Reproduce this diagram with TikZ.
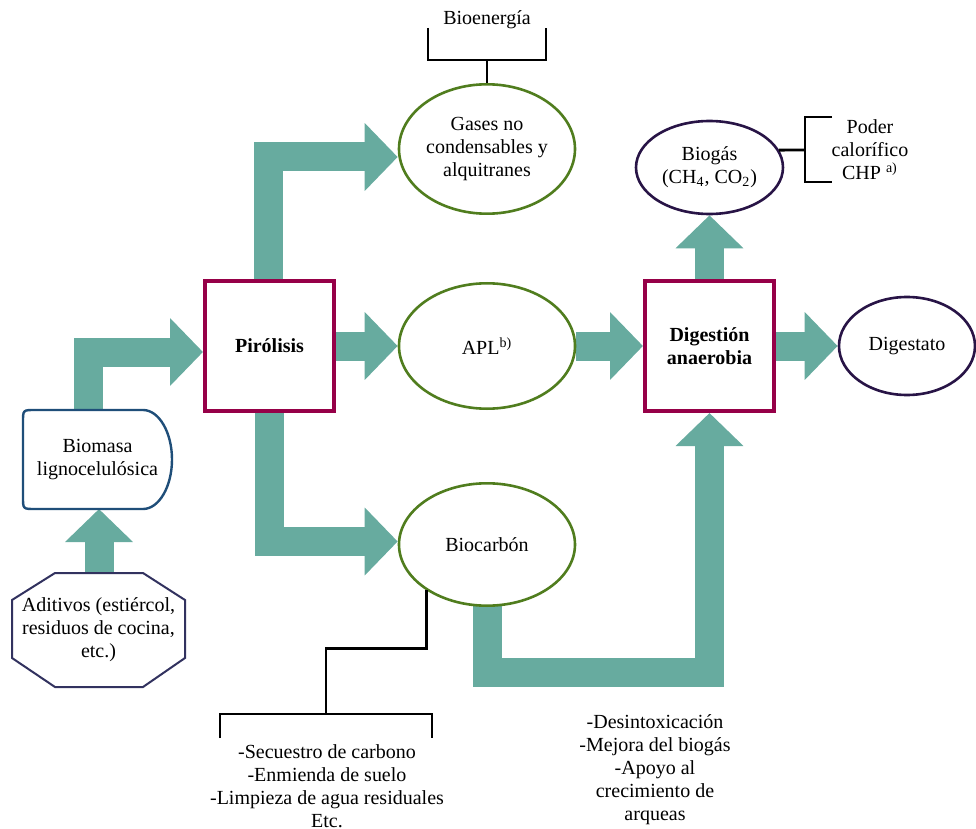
\documentclass[tikz,border=0pt]{standalone}
\usepackage{fontspec}
\setmainfont{Liberation Serif}
\newfontfamily\diagfont{Liberation Serif}
\usetikzlibrary{arrows.meta,calc,shapes.geometric,backgrounds}
\definecolor{flowteal}{RGB}{103,171,159}
\definecolor{procred}{RGB}{150,0,72}
\definecolor{ovalgreen}{RGB}{80,125,30}
\definecolor{ovalpurple}{RGB}{40,20,70}
\definecolor{biomblue}{RGB}{31,78,121}
\definecolor{aditnavy}{RGB}{50,50,95}
\begin{document}
\begin{tikzpicture}[x=0.5pt,y=-0.5pt,
        font=\diagfont\fontsize{10}{11.5}\selectfont,
        every node/.style={align=center, inner sep=0pt},
        procbox/.style={draw=procred, line width=2pt, fill=white,
            minimum width=64.5pt, minimum height=65pt,
            font=\diagfont\fontsize{10}{11.5}\selectfont\bfseries},
        greenoval/.style={ellipse, draw=ovalgreen, line width=1.3pt,
            fill=white, minimum width=88pt},
        purpleoval/.style={ellipse, draw=ovalpurple, line width=1.3pt,
            fill=white},
        fatarrow/.style={draw=flowteal, line width=14.5pt, line join=miter,
            -{Triangle[width=33pt,length=16.5pt]}},
        bracket/.style={draw=black, line width=1.4pt, line join=miter}
    ]
    \useasboundingbox (0,0) rectangle (976,829);

    \node[minimum width=74.5pt, minimum height=49.5pt, outer sep=0pt]
        (bio) at (97.5,459.5) {};
    \node[minimum width=86.5pt, minimum height=57pt, outer sep=0pt]
        (adit) at (98.5,630) {};
    \node[procbox] (piro) at (269.5,346) {Pirólisis};
    \node[greenoval, minimum height=64.7pt] (gases) at (487,149)
        {Gases no\\condensables y\\alquitranes};
    \node[greenoval, minimum height=62.7pt] (apl) at (487,346)
        {APL\textsuperscript{b)}};
    \node[greenoval, minimum height=61.2pt] (bioc) at (487,544.5)
        {Biocarbón};
    \node[procbox] (dig) at (709.5,346) {Digestión\\anaerobia};
    \node[purpleoval, minimum width=73.5pt, minimum height=46.5pt]
        (biogas) at (709.5,167.5) {Biogás\\(CH\textsubscript{4}, CO\textsubscript{2})};
    \node[purpleoval, minimum width=68pt, minimum height=49pt]
        (dige) at (907,346) {Digestato};

    \node (bioen) at (487,20) {Bioenergía};
    \node (poder) at (870,150) {Poder\\calorífico\\CHP \textsuperscript{a)}};
    \node (secu) at (327,786) {-Secuestro de carbono\\-Enmienda de suelo\\
        -Limpieza de agua residuales\\Etc.};
    \node (desin) at (655,770) {-Desintoxicación\\-Mejora del biogás\\
        -Apoyo al\\crecimiento de\\arqueas};

    \draw[draw=biomblue, line width=1.2pt, fill=white]
        ($(bio.north east)+(-29,0)$) -- ($(bio.north west)+(12,0)$)
        .. controls (bio.north west) .. ($(bio.north west)+(0,12)$)
        -- ($(bio.south west)+(0,-12)$)
        .. controls (bio.south west) .. ($(bio.south west)+(12,0)$)
        -- ($(bio.south east)+(-29,0)$)
        .. controls +(16,0) and +(0,27) .. (bio.east)
        .. controls +(0,-27) and +(16,0) .. cycle;
    \node at (bio) {Biomasa\\lignocelulósica};

    \draw[draw=aditnavy, line width=1pt, fill=white]
        ($(adit.north west)+(43,0)$) -- ($(adit.north east)+(-42,0)$)
        -- ($(adit.north east)+(0,27)$) -- ($(adit.south east)+(0,-29)$)
        -- ($(adit.south east)+(-42,0)$) -- ($(adit.south west)+(43,0)$)
        -- ($(adit.south west)+(0,-29)$) -- ($(adit.north west)+(0,27)$)
        -- cycle;
    \node at (adit) {Aditivos (estiércol,\\residuos de cocina,\\etc.)};

    \coordinate (bioenL) at (428,28);
    \coordinate (bioenR) at (546,28);
    \coordinate (bioenM) at (487,60);
    \draw[bracket] (bioenL) |- (bioenR |- bioenM) -- (bioenR);
    \draw[bracket] (bioenM) -- (gases.north);

    \coordinate (podT) at (832,117);
    \coordinate (podB) at (832,182);
    \coordinate (podM) at (805,150);
    \draw[bracket] (biogas.14) -- (podM);
    \draw[bracket] (podT) -| (podM) |- (podB);

    \coordinate (secL) at (220,738);
    \coordinate (secR) at (432,738);
    \coordinate (secM) at (326,714);
    \draw[bracket] (bioc.217.5) -- ++(0,58) -| (secM);
    \draw[bracket] (secL) |- (secR |- secM) -- (secR);

    \begin{scope}[on background layer]
        \draw[fatarrow] ($(adit.north)+(0.5,0)$) -- ($(bio.south)+(1.5,0)$);
        \draw[fatarrow] ($(bio.north)+(-9.5,0)$) |- ($(piro.west)+(0,6)$);
        \draw[fatarrow] ($(piro.north)+(-1.5,0)$) |- ($(gases.west)+(0,8)$);
        \draw[fatarrow] (piro.east) -- (apl.west);
        \draw[fatarrow] (piro.south) |- ($(bioc.west)+(0,-3)$);
        \draw[fatarrow] (apl.east) -- (dig.west);
        \draw[fatarrow] (dig.north) -- (biogas.south);
        \draw[fatarrow] (dig.east) -- (dige.west);
        \draw[fatarrow] (bioc.center) -- ++(0,127.5) -| (dig.south);
    \end{scope}
\end{tikzpicture}
\end{document}
